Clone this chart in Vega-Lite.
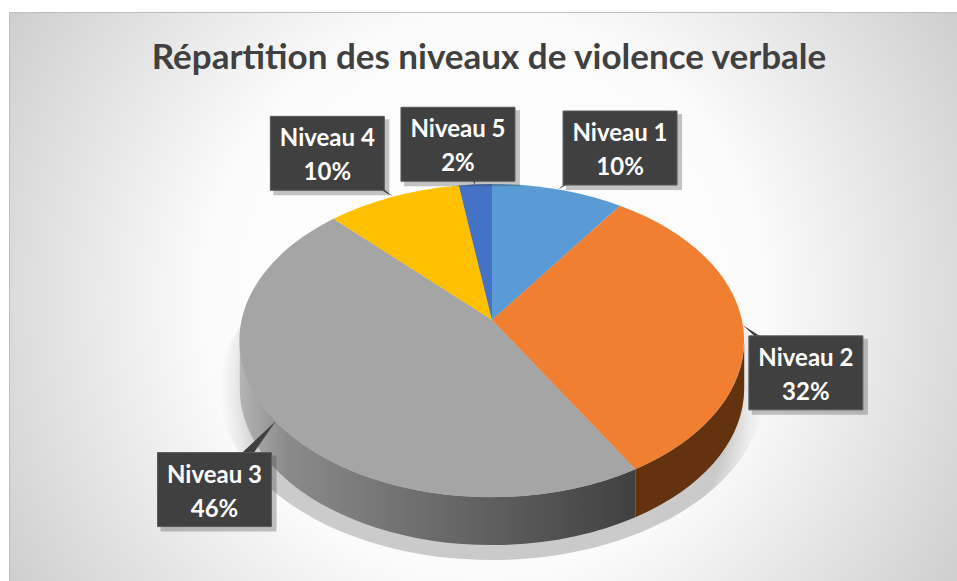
{
  "$schema": "https://vega.github.io/schema/vega-lite/v6.json",
  "width": 948,
  "height": 569,
  "autosize": {"type": "none"},
  "padding": {"left": 9, "top": 12, "right": 0, "bottom": 0},
  "background": "white",
  "view": {
    "stroke": "#bdbdbd",
    "fill": {"gradient": "radial", "x1": 0.5, "y1": 0.5, "r1": 0, "x2": 0.5, "y2": 0.5, "r2": 0.7,
      "stops": [{"offset": 0, "color": "#ffffff"}, {"offset": 0.42, "color": "#fbfbfb"}, {"offset": 1, "color": "#bcbcbc"}]}
  },
  "title": {"text": "Répartition des niveaux de violence verbale", "font": "Lato", "fontWeight": "bold", "fontSize": 35, "color": "#404040", "anchor": "middle", "dx": 6, "offset": -64},
  "data": {"values": [
    {"niveau": "Niveau 1", "pct": 9.6},
    {"niveau": "Niveau 2", "pct": 31.9},
    {"niveau": "Niveau 3", "pct": 46.3},
    {"niveau": "Niveau 4", "pct": 9.8},
    {"niveau": "Niveau 5", "pct": 2.4}
  ]},
  "transform": [
    {"stack": "pct", "sort": [{"field": "niveau"}], "as": ["c0", "c1"]},
    {"calculate": "datum.c0/100*2*PI", "as": "t0"},
    {"calculate": "datum.c1/100*2*PI", "as": "t1"},
    {"calculate": "(datum.t0+datum.t1)/2", "as": "tm"},
    {"calculate": "round(2500*sin(datum.t0)/(1+0.131*cos(datum.t0)))/10", "as": "x0"},
    {"calculate": "round(-1538*cos(datum.t0)/(1+0.131*cos(datum.t0)))/10", "as": "y0"},
    {"calculate": "round(2500*sin(datum.t1)/(1+0.131*cos(datum.t1)))/10", "as": "x1"},
    {"calculate": "round(-1538*cos(datum.t1)/(1+0.131*cos(datum.t1)))/10", "as": "y1"},
    {"calculate": "'M0,0L'+datum.x0+','+datum.y0+'A252,156.5,0,'+(datum.t1-datum.t0>PI?1:0)+',1,'+datum.x1+','+datum.y1+'Z'", "as": "face"},
    {"calculate": "max(datum.t0,1.7017)", "as": "ta"},
    {"calculate": "min(datum.t1,4.5815)", "as": "tb"},
    {"calculate": "round(2500*sin(datum.ta)/(1+0.131*cos(datum.ta)))/10", "as": "xa"},
    {"calculate": "round(-1538*cos(datum.ta)/(1+0.131*cos(datum.ta)))/10", "as": "ya"},
    {"calculate": "round(2500*sin(datum.tb)/(1+0.131*cos(datum.tb)))/10", "as": "xb"},
    {"calculate": "round(-1538*cos(datum.tb)/(1+0.131*cos(datum.tb)))/10", "as": "yb"},
    {"calculate": "'M'+datum.xa+','+datum.ya+'A252,156.5,0,0,1,'+datum.xb+','+datum.yb+'L'+datum.xb+','+(datum.yb+48)+'A252,156.5,0,0,0,'+datum.xa+','+(datum.ya+48)+'Z'", "as": "side"},
    {"calculate": "sin(datum.tm)<0?-340*pow(abs(sin(datum.tm)),0.89):314*pow(sin(datum.tm),0.739)", "as": "lx"},
    {"calculate": "cos(datum.tm)>0?-176*pow(cos(datum.tm),0.5):208*pow(abs(cos(datum.tm)),0.407)", "as": "ly"},
    {"calculate": "round(2500*sin(datum.tm)/(1+0.131*cos(datum.tm)))/10", "as": "tipx"},
    {"calculate": "round(-1538*cos(datum.tm)/(1+0.131*cos(datum.tm)))/10", "as": "tipy"},
    {"calculate": "'M'+datum.tipx+','+datum.tipy+'L'+round(datum.lx-13)+','+round(datum.ly)+'L'+round(datum.lx+13)+','+round(datum.ly)+'Z'", "as": "wedge"},
    {"calculate": "datum.niveau+'\\n'+round(datum.pct)+'%'", "as": "etiquette"}
  ],
  "layer": [
    {
      "transform": [{"filter": "datum.niveau==='Niveau 3'"}],
      "mark": {"type": "point", "filled": true, "size": 4, "opacity": 1, "strokeWidth": 0,
        "shape": "M-272,70A272,170,0,0,1,272,70A272,170,0,0,1,-272,70Z",
        "color": {"gradient": "radial", "x1": 0.5, "y1": 0.5, "r1": 0, "x2": 0.5, "y2": 0.5, "r2": 0.5,
          "stops": [{"offset": 0, "color": "rgba(80,80,80,0.3)"}, {"offset": 0.88, "color": "rgba(80,80,80,0.28)"}, {"offset": 0.95, "color": "rgba(100,100,100,0.1)"}, {"offset": 1, "color": "rgba(120,120,120,0)"}]}},
      "encoding": {
        "x": {"datum": 0, "type": "quantitative", "axis": null, "scale": {"domain": [-483, 465], "nice": false, "zero": false}},
        "y": {"datum": 0, "type": "quantitative", "axis": null, "scale": {"domain": [261, -308], "nice": false, "zero": false}}
      }
    },
    {
      "transform": [{"filter": "datum.niveau==='Niveau 3'"}],
      "mark": {"type": "point", "filled": true, "size": 4, "opacity": 1, "strokeWidth": 0,
        "color": {"gradient": "linear", "x1": 0, "y1": 0, "x2": 1, "y2": 0,
          "stops": [{"offset": 0, "color": "#b4b4b4"}, {"offset": 0.12, "color": "#8a8a8a"}, {"offset": 0.55, "color": "#666666"}, {"offset": 1, "color": "#404040"}]}},
      "encoding": {
        "x": {"datum": 0, "type": "quantitative", "axis": null, "scale": {"domain": [-483, 465], "nice": false, "zero": false}},
        "y": {"datum": 0, "type": "quantitative", "axis": null, "scale": {"domain": [261, -308], "nice": false, "zero": false}},
        "shape": {"field": "side", "type": "nominal", "scale": null, "legend": null}
      }
    },
    {
      "transform": [{"filter": "datum.niveau==='Niveau 2'"}],
      "mark": {"type": "point", "filled": true, "size": 4, "opacity": 1, "strokeWidth": 0, "color": "#633310"},
      "encoding": {
        "x": {"datum": 0, "type": "quantitative", "axis": null, "scale": {"domain": [-483, 465], "nice": false, "zero": false}},
        "y": {"datum": 0, "type": "quantitative", "axis": null, "scale": {"domain": [261, -308], "nice": false, "zero": false}},
        "shape": {"field": "side", "type": "nominal", "scale": null, "legend": null}
      }
    },
    {
      "mark": {"type": "point", "filled": true, "size": 4, "opacity": 1, "strokeWidth": 0},
      "encoding": {
        "x": {"datum": 0, "type": "quantitative", "axis": null, "scale": {"domain": [-483, 465], "nice": false, "zero": false}},
        "y": {"datum": 0, "type": "quantitative", "axis": null, "scale": {"domain": [261, -308], "nice": false, "zero": false}},
        "shape": {"field": "face", "type": "nominal", "scale": null, "legend": null},
        "fill": {"field": "niveau", "type": "nominal", "legend": null, "scale": {"domain": ["Niveau 1", "Niveau 2", "Niveau 3", "Niveau 4", "Niveau 5"], "range": ["#5b9bd5", "#f07f31", "#a5a5a5", "#ffc000", "#4472c4"]}}
      }
    },
    {
      "mark": {"type": "rect", "width": 116, "height": 76, "color": "#3a3a3a", "opacity": 0.3, "xOffset": 4, "yOffset": 4},
      "encoding": {
        "x": {"field": "lx", "type": "quantitative", "axis": null, "scale": {"domain": [-483, 465], "nice": false, "zero": false}},
        "y": {"field": "ly", "type": "quantitative", "axis": null, "scale": {"domain": [261, -308], "nice": false, "zero": false}}
      }
    },
    {
      "mark": {"type": "point", "filled": true, "size": 4, "opacity": 1, "strokeWidth": 0, "color": "#404040"},
      "encoding": {
        "x": {"datum": 0, "type": "quantitative", "axis": null, "scale": {"domain": [-483, 465], "nice": false, "zero": false}},
        "y": {"datum": 0, "type": "quantitative", "axis": null, "scale": {"domain": [261, -308], "nice": false, "zero": false}},
        "shape": {"field": "wedge", "type": "nominal", "scale": null, "legend": null}
      }
    },
    {
      "mark": {"type": "rect", "width": 114, "height": 74, "color": "#404040", "stroke": "#5a5a5a", "strokeWidth": 1},
      "encoding": {
        "x": {"field": "lx", "type": "quantitative", "axis": null, "scale": {"domain": [-483, 465], "nice": false, "zero": false}},
        "y": {"field": "ly", "type": "quantitative", "axis": null, "scale": {"domain": [261, -308], "nice": false, "zero": false}}
      }
    },
    {
      "mark": {"type": "text", "font": "Lato", "fontWeight": "bold", "fontSize": 24, "color": "white", "align": "center", "baseline": "middle", "lineBreak": "\n", "lineHeight": 34, "dy": -14},
      "encoding": {
        "x": {"field": "lx", "type": "quantitative", "axis": null, "scale": {"domain": [-483, 465], "nice": false, "zero": false}},
        "y": {"field": "ly", "type": "quantitative", "axis": null, "scale": {"domain": [261, -308], "nice": false, "zero": false}},
        "text": {"field": "etiquette"}
      }
    }
  ]
}
